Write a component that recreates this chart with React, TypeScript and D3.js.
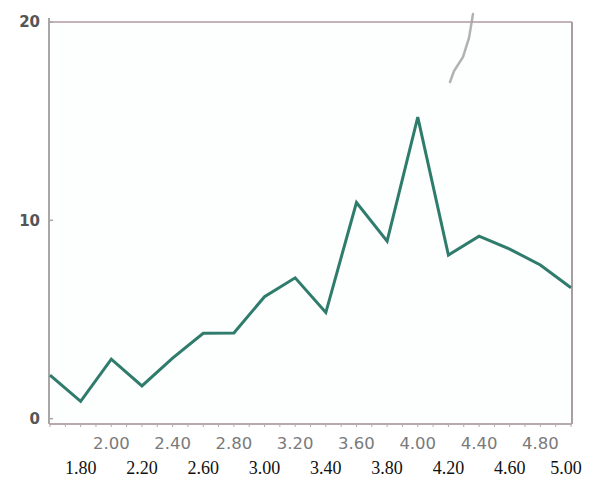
import React from "react";
import * as d3 from "d3";

const xValues = [1.6, 1.8, 2.0, 2.2, 2.4, 2.6, 2.8, 3.0, 3.2, 3.4, 3.6, 3.8, 4.0, 4.2, 4.4, 4.6, 4.8, 5.0];
const yValues = [2.2, 0.87, 3.0, 1.65, 3.05, 4.3, 4.32, 6.15, 7.1, 5.35, 10.9, 8.95, 15.2, 8.25, 9.2, 8.55, 7.75, 6.6];
const greyTicks = [2.0, 2.4, 2.8, 3.2, 3.6, 4.0, 4.4, 4.8];
const serifTicks = [1.8, 2.2, 2.6, 3.0, 3.4, 3.8, 4.2, 4.6, 5.0];
const yTicks = [0, 10, 20];

const W = 590;
const H = 477;
const left = 49;
const right = 572;
const top = 22;
const bottom = 424;

export default function App() {
  const x = d3.scaleLinear().domain([1.6, 5.0]).range([left + 1, right - 1]);
  const y = d3.scaleLinear().domain([-0.27, 20]).range([bottom, top]);
  const line = d3
    .line<number>()
    .x((_, i) => x(xValues[i]))
    .y((d) => y(d));
  const minorTicks = d3.range(1.6, 5.01, 0.1);

  return (
    <svg
      width={W}
      height={H}
      style={{ position: "absolute", left: 0, top: 0, background: "#fff" }}
    >
      <rect x={left} y={top} width={right - left} height={bottom - top} fill="#fdfefe" />
      <line x1={left} y1={top} x2={right} y2={top} stroke="#c4b3b9" strokeWidth={2} />
      <line x1={left} y1={top - 4} x2={left} y2={bottom} stroke="#aaa6a8" strokeWidth={2} />
      <line x1={right} y1={top} x2={right} y2={bottom} stroke="#a99ca2" strokeWidth={2} />
      <line x1={left} y1={bottom} x2={right} y2={bottom} stroke="#b8a8b0" strokeWidth={2} />
      {minorTicks.map((t, i) => (
        <line key={i} x1={x(t)} x2={x(t)} y1={bottom} y2={bottom + 3} stroke="#b8a8b0" strokeWidth={1} />
      ))}
      {yTicks.map((t) => (
        <g key={t}>
          <line x1={left} x2={left + 4} y1={y(t)} y2={y(t)} stroke="#a9a6a8" strokeWidth={1.5} />
          <text
            x={40}
            y={y(t)}
            dy="0.35em"
            textAnchor="end"
            fontFamily="'DejaVu Sans', sans-serif"
            fontWeight="bold"
            fontSize={15}
            fill="#555"
          >
            {t}
          </text>
        </g>
      ))}
      {greyTicks.map((t) => (
        <text
          key={t}
          x={x(t)}
          y={449}
          textAnchor="middle"
          fontFamily="'DejaVu Sans', sans-serif"
          fontSize={16.5}
          fill="#7a7a7a"
        >
          {t.toFixed(2)}
        </text>
      ))}
      {serifTicks.map((t) => (
        <text
          key={t}
          x={Math.min(x(t), 566)}
          y={474}
          textAnchor="middle"
          fontFamily="'Liberation Serif', 'Times New Roman', serif"
          fontSize={18}
          fill="#111"
        >
          {t.toFixed(2)}
        </text>
      ))}
      <path d={line(yValues) ?? ""} fill="none" stroke="#2f7c6c" strokeWidth={3} strokeLinejoin="miter" />
      <path
        d="M473,14 L469,38 L463,57 L454,71 L450,82"
        fill="none"
        stroke="#a5a5a5"
        strokeWidth={2.5}
        strokeLinecap="round"
        opacity={0.85}
      />
    </svg>
  );
}
